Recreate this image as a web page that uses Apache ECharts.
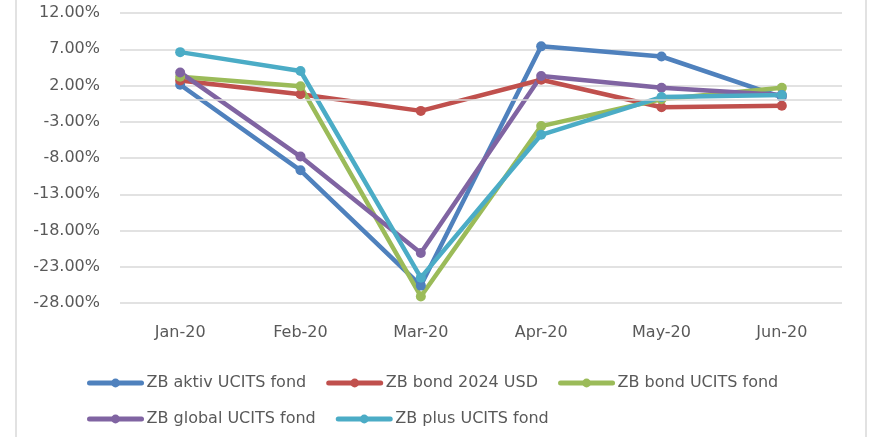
<!DOCTYPE html>
<html lang="en">
  <head>
    <meta charset="utf-8" />
    <title>ZB fondovi 2020</title>
    <script src="https://cdn.jsdelivr.net/npm/echarts@6/dist/echarts.min.js"></script>
    <style>
      html, body { margin: 0; padding: 0; background: #fff; }
      #chart { width: 876px; height: 437px; }
    </style>
  </head>
  <body>
    <div id="chart"></div>
    <script>
      // monthly returns in %
      var months = ['Jan-20', 'Feb-20', 'Mar-20', 'Apr-20', 'May-20', 'Jun-20']
      var aktiv = [2.1, -9.7, -25.6, 7.4, 6.0, 0.4]
      var bond2024 = [2.7, 0.8, -1.5, 2.8, -1.0, -0.8]
      var bondUcits = [3.2, 1.9, -27.1, -3.6, 0.1, 1.7]
      var global = [3.8, -7.8, -21.1, 3.3, 1.7, 0.7]
      var plus = [6.6, 4.0, -24.5, -4.8, 0.4, 0.7]
      var seriesNames = ['ZB aktiv UCITS fond', 'ZB bond 2024 USD', 'ZB bond UCITS fond', 'ZB global UCITS fond', 'ZB plus UCITS fond']
      var colors = ['#4F81BD', '#C0504D', '#9BBB59', '#8064A2', '#4BACC6']

      var font = 'DejaVu Sans'
      var chart = echarts.init(document.getElementById('chart'))

      function line (name, data, i) {
        var s = {
          name: name,
          type: 'line',
          data: data,
          symbol: 'circle',
          symbolSize: 10,
          lineStyle: { width: 4.5, color: colors[i], cap: 'round', join: 'round' },
          itemStyle: { color: colors[i] }
        }
        if (i === 0) {
          // grey line at 0%, like the category axis in the original
          s.markLine = {
            silent: true,
            symbol: 'none',
            label: { show: false },
            lineStyle: { color: '#d9d9d9', width: 1.5, type: 'solid' },
            data: [{ yAxis: 0 }]
          }
        }
        return s
      }

      chart.setOption({
        animation: false,
        color: colors,
        graphic: [{
          type: 'rect',
          shape: { x: 16, y: -10, width: 850, height: 460 },
          style: { fill: 'none', stroke: '#d9d9d9', lineWidth: 1.5 },
          silent: true
        }],
        grid: { left: 120, right: 34, top: 13, bottom: 134 },
        xAxis: {
          type: 'category',
          data: months,
          axisLine: { show: false, onZero: false },
          axisTick: { show: false },
          axisLabel: { color: '#595959', fontFamily: font, fontSize: 16, margin: 22 }
        },
        yAxis: {
          type: 'value',
          min: -28,
          max: 12,
          interval: 5,
          axisLine: { show: false },
          axisTick: { show: false },
          splitLine: { lineStyle: { color: '#d9d9d9', width: 1.5 } },
          axisLabel: {
            color: '#595959', fontFamily: font, fontSize: 16, margin: 20,
            formatter: function (v) { return v.toFixed(2) + '%' }
          }
        },
        legend: {
          left: 82,
          top: 370,
          width: 740,
          itemWidth: 52,
          itemHeight: 11,
          itemGap: 20,
          lineStyle: { width: 5, cap: 'round' },
          textStyle: { color: '#595959', fontFamily: font, fontSize: 16 },
          data: seriesNames
        },
        series: [
          line(seriesNames[0], aktiv, 0),
          line(seriesNames[1], bond2024, 1),
          line(seriesNames[2], bondUcits, 2),
          line(seriesNames[3], global, 3),
          line(seriesNames[4], plus, 4)
        ]
      })
    </script>
  </body>
</html>
